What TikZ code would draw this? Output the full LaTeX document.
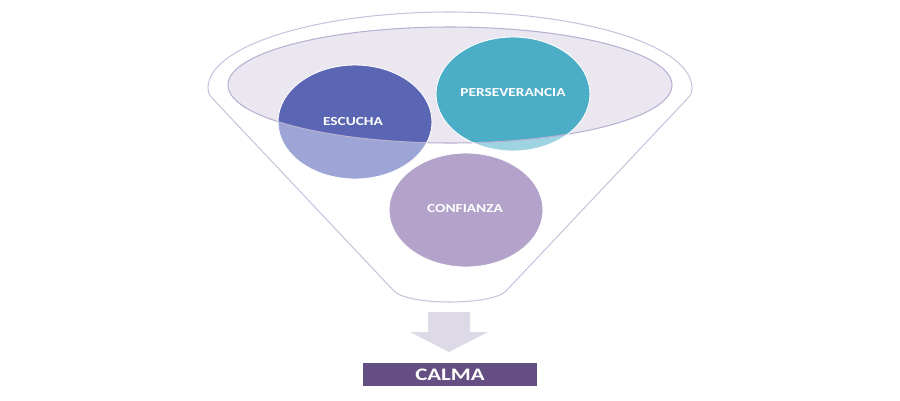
\documentclass[tikz,border=0pt]{standalone}
\usepackage{fontspec}
\setmainfont{Carlito}
\usepackage{tikz}
\usetikzlibrary{positioning}

\definecolor{rimfill}{HTML}{EBE7F0}
\definecolor{rimline}{HTML}{B9B0D2}
\definecolor{funnelline}{HTML}{C9C2DD}
\definecolor{escuchadark}{HTML}{5A66B4}
\definecolor{escuchalight}{HTML}{9DA5D7}
\definecolor{persedark}{HTML}{4CADC7}
\definecolor{perselight}{HTML}{9ED4E2}
\definecolor{confianzacol}{HTML}{B3A3CA}
\definecolor{arrowcol}{HTML}{DDD9E7}
\definecolor{calmacol}{HTML}{654F82}

\begin{document}
\begin{tikzpicture}[x=0.02cm, y=-0.02cm,
  circtext/.style={text=white, font=\bfseries\fontsize{7}{8}\selectfont, xscale=1.25},
  calmabox/.style={fill=calmacol, text=white, font=\bfseries\fontsize{10}{12}\selectfont,
    xscale=1.3, minimum width=2.68cm, minimum height=0.46cm, inner sep=0pt}]
\useasboundingbox (0,0) rectangle (900,400);

% Funnel outline
\draw[funnelline, line width=0.6pt] (393,290) -- (213,99) .. controls (208,94) and (208,91) .. (208,88)
  arc[start angle=180, end angle=360, x radius=242, y radius=76]
  .. controls (692,91) and (692,94) .. (687,99) -- (507,290)
  .. controls (495,306) and (405,306) .. (393,290) -- cycle;

% Funnel rim
\fill[rimfill] (450,85) ellipse [x radius=222, y radius=58];

% Circles (lighter below the rim)
\fill[escuchalight] (355,122) ellipse [x radius=77, y radius=57];
\fill[perselight] (513,94) ellipse [x radius=77, y radius=57];
\begin{scope}
\clip (450,85) ellipse [x radius=222, y radius=58];
\fill[escuchadark] (355,122) ellipse [x radius=77, y radius=57];
\fill[persedark] (513,94) ellipse [x radius=77, y radius=57];
\end{scope}
\draw[rimline, line width=0.6pt] (450,85) ellipse [x radius=222, y radius=58];
\draw[white, line width=0.5pt] (355,122) ellipse [x radius=77, y radius=57];
\draw[white, line width=0.5pt] (513,94) ellipse [x radius=77, y radius=57];
\filldraw[fill=confianzacol, draw=white, line width=0.5pt] (466,210) ellipse [x radius=77, y radius=57];

\node[circtext] (escucha) at (353,122) {ESCUCHA};
\node[circtext] (perseverancia) at (513,93) {PERSEVERANCIA};
\node[circtext] (confianza) at (465,209) {CONFIANZA};

% Result
\node[calmabox] (calma) at (450,374.5) {CALMA};
\coordinate (arrowtop) at (449,312);
\fill[arrowcol] (arrowtop) -- ++(21,0) -- ++(0,20) -- ++(18,0) -- ++(-39,20)
  -- ++(-39,-20) -- ++(18,0) -- ++(0,-20) -- cycle;
\end{tikzpicture}
\end{document}
